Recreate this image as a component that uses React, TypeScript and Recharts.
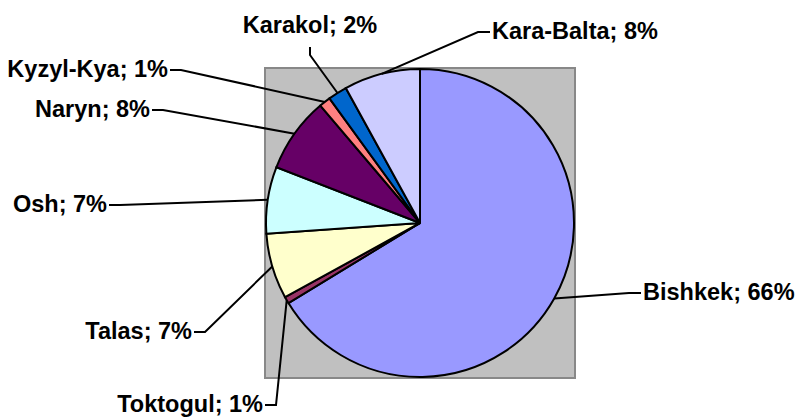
import React from "react";
import { PieChart, Pie, Cell } from "recharts";

const cities = ["Bishkek", "Toktogul", "Talas", "Osh", "Naryn", "Kyzyl-Kya", "Karakol", "Kara-Balta"];
const shares = [66.3, 0.7, 6.9, 7.0, 7.9, 1.2, 2.0, 8.0];
const colors = ["#9999FF", "#993366", "#FFFFCC", "#CCFFFF", "#660066", "#FF8080", "#0066CC", "#CCCCFF"];

// label text anchors, relative to pie centre (x, baseline y, side)
const labelSpots: [number, number, string][] = [
  [223, 77, "start"],
  [-157, 189, "end"],
  [-228, 116, "end"],
  [-313, -11, "end"],
  [-270, -106, "end"],
  [-252, -146, "end"],
  [-110, -190, "middle"],
  [72, -184, "start"],
];

const data = cities.map((name, i) => ({ name, value: shares[i] }));

const W = 799;
const H = 418;
const CX = 420;
const CY = 223;
const R = 154;
const RAD = Math.PI / 180;

const renderLabel = (props: any) => {
  const { midAngle, index, name, percent } = props;
  const cx = props.cx ?? CX;
  const cy = props.cy ?? CY;
  const r = props.outerRadius ?? R;
  const ax = cx + r * Math.cos(-midAngle * RAD);
  const ay = cy + r * Math.sin(-midAngle * RAD);
  const [dx, dy, side] = labelSpots[index];
  const tx = cx + dx;
  const ty = cy + dy;
  let pts: string;
  if (side === "middle") {
    pts = `${ax},${ay} ${tx},${ty + 22} ${tx},${ty + 14}`;
  } else if (side === "end") {
    pts = `${ax},${ay} ${tx + 13},${ty - 7} ${tx + 2},${ty - 7}`;
  } else {
    pts = `${ax},${ay} ${tx - 14},${ty - 7} ${tx - 2},${ty - 7}`;
  }
  return (
    <g key={`lbl-${index}`}>
      <polyline points={pts} fill="none" stroke="#000" strokeWidth={2} />
      <text
        x={tx}
        y={ty}
        textAnchor={side}
        fontFamily="'Liberation Sans', Arial, sans-serif"
        fontWeight="bold"
        fontSize={23.5}
        fill="#000"
      >
        {`${name}; ${Math.round(percent * 100)}%`}
      </text>
    </g>
  );
};

export default function App() {
  return (
    <div style={{ position: "absolute", left: 0, top: 0, width: W, height: H, background: "#fff" }}>
      <div
        style={{
          position: "absolute",
          left: CX - R - 2,
          top: CY - R - 2,
          width: 2 * R + 4,
          height: 2 * R + 4,
          background: "#C0C0C0",
          border: "2px solid #888",
          boxSizing: "border-box",
        }}
      />
      <div style={{ position: "absolute", left: 0, top: 0 }}>
        <PieChart width={W} height={H} margin={{ top: 0, right: 0, bottom: 0, left: 0 }}>
          <Pie
            data={data}
            dataKey="value"
            nameKey="name"
            cx={CX}
            cy={CY}
            outerRadius={R}
            startAngle={90}
            endAngle={-270}
            stroke="#000"
            strokeWidth={2}
            label={renderLabel}
            labelLine={false}
            isAnimationActive={false}
          >
            {data.map((d, i) => (
              <Cell key={d.name} fill={colors[i]} />
            ))}
          </Pie>
        </PieChart>
      </div>
    </div>
  );
}
